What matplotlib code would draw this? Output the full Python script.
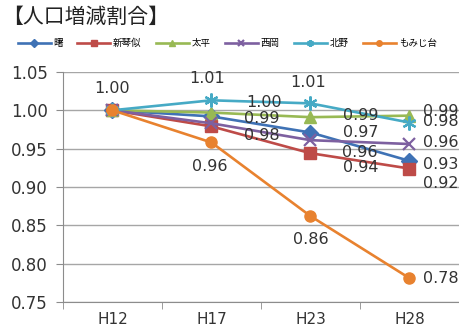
import numpy as np
import matplotlib
matplotlib.use('Agg')
import matplotlib.pyplot as plt
from matplotlib.ticker import FixedLocator, NullFormatter

plt.rcParams['font.family'] = ['Noto Sans CJK JP', 'DejaVu Sans']
NUM_FONT = 'DejaVu Sans'

years = ['H12', 'H17', 'H23', 'H28']
names = ['曙', '新琴似', '太平', '西岡', '北野', 'もみじ台']
akebono = [1.000, 0.992, 0.971, 0.934]
shinkotoni = [1.000, 0.979, 0.944, 0.924]
taihei = [1.000, 0.997, 0.991, 0.993]
nishioka = [1.000, 0.983, 0.961, 0.956]
kitano = [1.000, 1.013, 1.009, 0.984]
momijidai = [1.000, 0.958, 0.862, 0.781]
series = [akebono, shinkotoni, taihei, nishioka, kitano, momijidai]

colors = ['#3f72b5', '#be4b48', '#98b954', '#7d60a0', '#46aac5', '#e8822f']
markers = ['D', 's', '^', 'x', (6, 2, 0), 'o']
msizes = [8, 9, 9, 8, 10, 8]

# label offsets in pixels (dx, dy, ha); None = no label shown
label_pos = [
    [None, (33, -2, 'left'), (33, 0, 'left'), (14, -4, 'left')],
    [None, (33, -9, 'left'), (33, -14, 'left'), (14, -15, 'left')],
    [None, (35, 10, 'left'), (33, 2, 'left'), (14, 4, 'left')],
    [None, None, (32, -12, 'left'), (14, 2, 'left')],
    [(0, 22, 'center'), (-4, 22, 'center'), (-2, 21, 'center'), (14, 1, 'left')],
    [None, (-2, -24, 'center'), (0, -23, 'center'), (14, 0, 'left')],
]

fig = plt.figure(figsize=(4.59, 3.30), dpi=100)
ax = fig.add_axes([0.137, 0.085, 0.863, 0.697])

x = np.arange(len(years))
for vals, name, c, m, ms, lp in zip(series, names, colors, markers, msizes, label_pos):
    mew = 1.6 if m in ('x', (6, 2, 0)) else 1
    ax.plot(x, vals, color=c, lw=1.9, marker=m, markersize=ms,
            markeredgewidth=mew, markeredgecolor=c, label=name)
    for xi, v, p in zip(x, vals, lp):
        if p is None:
            continue
        ax.annotate(f'{v:.2f}', (xi, v), xytext=(p[0], p[1]),
                    textcoords='offset pixels', ha=p[2], va='center',
                    fontsize=11.5, family=NUM_FONT, color='#333333',
                    annotation_clip=False)

ax.set_xlim(-0.5, 3.5)
ax.set_ylim(0.75, 1.05)
yt = np.arange(0.75, 1.051, 0.05)
ax.set_yticks(yt)
ax.set_yticklabels([f'{t:.2f}' for t in yt], fontsize=12, family=NUM_FONT, color='#333333')
ax.set_xticks(x)
ax.set_xticklabels(years, fontsize=11, family=NUM_FONT, color='#333333')
ax.xaxis.set_minor_locator(FixedLocator([-0.5, 0.5, 1.5, 2.5, 3.5]))
ax.xaxis.set_minor_formatter(NullFormatter())
ax.tick_params(axis='x', which='major', length=0, pad=7)
ax.tick_params(axis='x', which='minor', length=5, color='#8c8c8c')
ax.tick_params(axis='y', length=5, color='#8c8c8c', pad=6)
ax.grid(axis='y', color='#a6a6a6', lw=1)
ax.set_axisbelow(True)
for s in ['top', 'right']:
    ax.spines[s].set_visible(False)
for s in ['left', 'bottom']:
    ax.spines[s].set_color('#8c8c8c')

fig.text(0.005, 0.95, '【人口増減割合】', fontsize=15, va='center', ha='left', color='#222222')
fig.legend(loc='center left', bbox_to_anchor=(0.03, 0.868), ncol=6, frameon=False,
           fontsize=6.8, markerscale=0.5, handlelength=3.5, handletextpad=0.3,
           columnspacing=1.5, borderaxespad=0)

fig.savefig('out.png', dpi=100)
